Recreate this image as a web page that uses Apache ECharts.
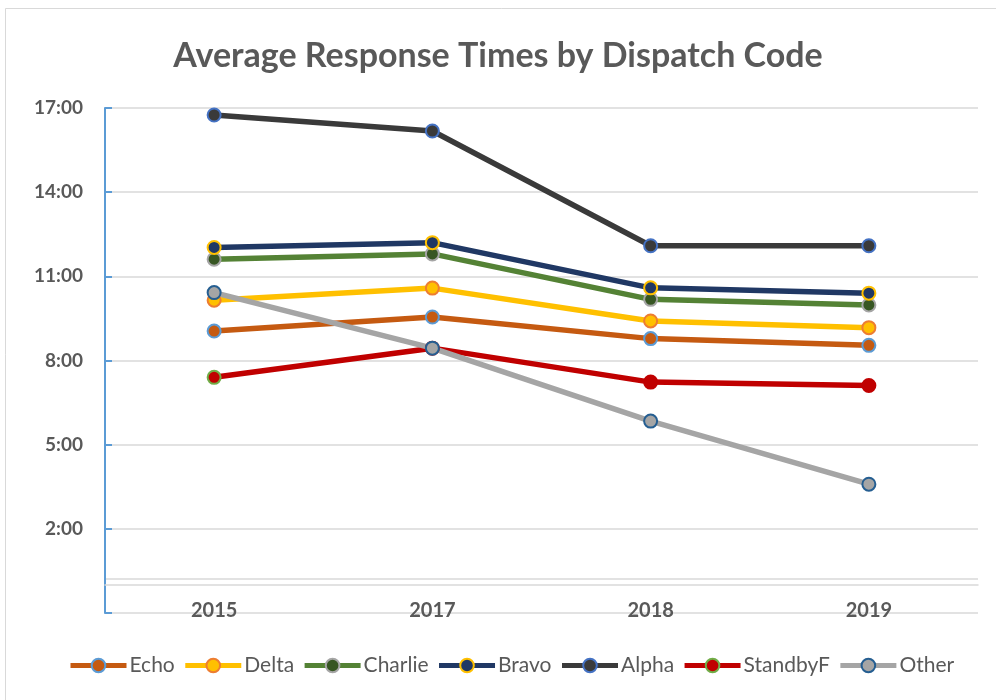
<!DOCTYPE html>
<html>
<head>
<meta charset="utf-8">
<script src="https://cdn.jsdelivr.net/npm/echarts@6/dist/echarts.min.js"></script>
<style>
  html, body { margin: 0; padding: 0; background: #ffffff; }
  #chart { width: 996px; height: 700px; }
</style>
</head>
<body>
<div id="chart"></div>
<script>
// Response times in minutes (decimal), one value per year
const years = ['2015', '2017', '2018', '2019'];
const echo     = [9.05, 9.55, 8.78, 8.54];
const delta    = [10.15, 10.58, 9.41, 9.17];
const charlie  = [11.61, 11.80, 10.18, 9.98];
const bravo    = [12.03, 12.20, 10.59, 10.40];
const alpha    = [16.75, 16.18, 12.09, 12.09];
const standbyF = [7.40, 8.44, 7.23, 7.11];
const other    = [10.42, 8.44, 5.84, 3.59];

// Value axis range and step (minutes)
const yMin = -1;
const yMax = 17;
const yStep = 3;
// Extra unlabelled gridline near the bottom of the plot
const extraGridValue = 0.21;

const FONT = 'Lato, "Open Sans", sans-serif';
const TEXT = '#595959';
const GRID = '#d9d9d9';

function fmtMinutes(v) {
  if (v < 0) return '';
  const m = Math.floor(v + 1e-9);
  const s = Math.round((v - m) * 60);
  return m + ':' + String(s).padStart(2, '0');
}

function lineSeries(name, values, lineColor, fill, border, pointBorders) {
  const data = values.map((v, i) => {
    if (pointBorders && pointBorders[i]) {
      return { value: v, itemStyle: { borderColor: pointBorders[i] } };
    }
    return v;
  });
  return {
    name: name,
    type: 'line',
    data: data,
    symbol: 'circle',
    symbolSize: 13,
    showAllSymbol: true,
    lineStyle: { color: lineColor, width: 5.5 },
    itemStyle: { color: fill, borderColor: border, borderWidth: 2 },
    emphasis: { disabled: true },
    animation: false
  };
}

const series = [
  lineSeries('Echo', echo, '#C55A11', '#C55A11', '#5B9BD5'),
  lineSeries('Delta', delta, '#FFC000', '#FFC000', '#ED7D31'),
  lineSeries('Charlie', charlie, '#548235', '#375623', '#A5A5A5'),
  lineSeries('Bravo', bravo, '#203864', '#203864', '#FFC000'),
  lineSeries('Alpha', alpha, '#3A3A3A', '#3A3A3A', '#4472C4'),
  lineSeries('StandbyF', standbyF, '#C00000', '#C00000', '#70AD47',
    [null, '#C00000', '#C00000', '#C00000']),
  lineSeries('Other', other, '#A5A5A5', '#A5A5A5', '#255E91')
];

// unlabelled gridline drawn as a silent mark line on the first series
series[0].markLine = {
  silent: true,
  symbol: 'none',
  label: { show: false },
  lineStyle: { color: GRID, width: 1.5, type: 'solid' },
  data: [{ yAxis: extraGridValue }],
  z: 0
};

const chart = echarts.init(document.getElementById('chart'), null, { renderer: 'canvas' });
chart.setOption({
  backgroundColor: '#ffffff',
  animation: false,
  textStyle: { fontFamily: FONT },
  title: {
    text: 'Average Response Times by Dispatch Code',
    left: 'center',
    top: 34,
    textStyle: { fontFamily: FONT, fontWeight: 'bold', fontSize: 34, color: TEXT }
  },
  graphic: [{
    type: 'rect',
    shape: { x: 5.5, y: 8.5, width: 1000, height: 700 },
    style: { fill: 'none', stroke: '#d9d9d9', lineWidth: 1 },
    silent: true,
    z: -1
  }],
  legend: {
    left: 68,
    top: 655,
    padding: 0,
    itemWidth: 56,
    itemHeight: 17,
    itemGap: 8,
    lineStyle: { width: 5 },
    textStyle: { fontFamily: FONT, fontSize: 21, color: TEXT, padding: [0, 0, 0, -2] },
    data: series.map(s => s.name)
  },
  grid: { left: 105, right: 18, top: 108, bottom: 87, containLabel: false },
  xAxis: {
    type: 'category',
    data: years,
    boundaryGap: true,
    axisLine: { show: true, lineStyle: { color: GRID, width: 1.5 } },
    axisTick: { show: false },
    axisLabel: {
      margin: -12,
      fontFamily: FONT, fontWeight: 'bold', fontSize: 20, color: TEXT
    },
    splitLine: { show: false }
  },
  yAxis: {
    type: 'value',
    min: yMin,
    max: yMax,
    interval: yStep,
    axisLine: { show: true, lineStyle: { color: '#5B9BD5', width: 2 } },
    axisTick: { show: true, inside: true, length: 7, lineStyle: { color: '#5B9BD5', width: 2 } },
    axisLabel: {
      margin: 22,
      fontFamily: FONT, fontWeight: 'bold', fontSize: 19, color: TEXT,
      formatter: fmtMinutes
    },
    splitLine: { show: true, lineStyle: { color: GRID, width: 1.5 } }
  },
  series: series
});
</script>
</body>
</html>
